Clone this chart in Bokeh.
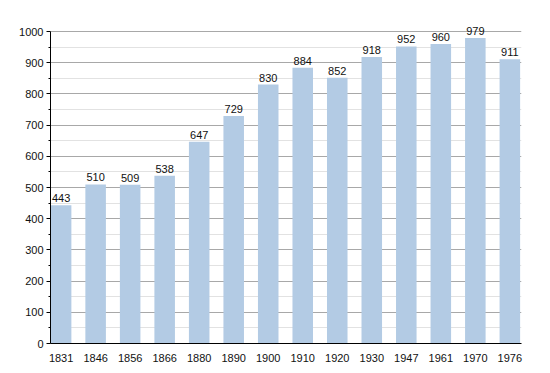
from bokeh.plotting import figure
from bokeh.models import ColumnDataSource, FixedTicker, Range1d
from bokeh.embed import file_html
from bokeh.resources import INLINE
from bokeh.core.properties import value

years = ["1831", "1846", "1856", "1866", "1880", "1890", "1900", "1910", "1920", "1930", "1947", "1961", "1970", "1976"]
population = [443, 510, 509, 538, 647, 729, 830, 884, 852, 918, 952, 960, 979, 911]
y_ticks = [0, 100, 200, 300, 400, 500, 600, 700, 800, 900, 1000]

xs = list(range(len(years)))
bar_w = 0.595
src = ColumnDataSource(dict(x=xs, top=population, label=[str(v) for v in population]))

extra_px = 16
y_top = 1000 * (312 + extra_px) / 312

p = figure(width=542, height=365, output_backend="svg", toolbar_location=None,
           frame_width=471, frame_height=312 + extra_px,
           x_range=Range1d(-bar_w / 2 - 0.01, len(years) - 1 + bar_w / 2 + 0.04),
           y_range=Range1d(0, y_top),
           min_border_left=50, min_border_top=31 - extra_px, min_border_right=21, min_border_bottom=22)
p.outline_line_color = None
p.background_fill_color = "white"
p.border_fill_color = "white"

p.vbar(x="x", top="top", width=bar_w, source=src, fill_color="#b3cbe4", line_color=None)
p.text(x="x", y="top", text="label", source=src, text_align="center", text_baseline="bottom",
       y_offset=-3, text_font=value("Liberation Sans"), text_font_size="11px", text_color="#111111")

p.xgrid.grid_line_color = None
p.ygrid.grid_line_color = "#a8a8a8"
p.ygrid.grid_line_width = 1
p.ygrid.minor_grid_line_color = "#e2e2e2"
p.ygrid.level = "underlay"

p.yaxis.bounds = (0, 1000)
p.yaxis.ticker = FixedTicker(ticks=y_ticks, minor_ticks=[v + 50 for v in y_ticks[:-1]])
p.yaxis.major_tick_out = 4
p.yaxis.major_tick_in = 0
p.yaxis.minor_tick_out = 2
p.yaxis.minor_tick_in = 0
p.yaxis.axis_line_color = "black"
p.yaxis.major_tick_line_color = "black"
p.yaxis.minor_tick_line_color = "black"
p.yaxis.major_label_standoff = 3

p.xaxis.ticker = FixedTicker(ticks=xs)
p.xaxis.major_label_overrides = {i: y for i, y in enumerate(years)}
p.xaxis.major_tick_line_color = None
p.xaxis.minor_tick_line_color = None
p.xaxis.axis_line_color = "black"
p.xaxis.major_label_standoff = 4

for ax in (p.xaxis, p.yaxis):
    ax.major_label_text_font = "Liberation Sans"
    ax.major_label_text_font_size = "11px"
    ax.major_label_text_color = "#111111"

open("out.html", "w").write(file_html(p, INLINE))
